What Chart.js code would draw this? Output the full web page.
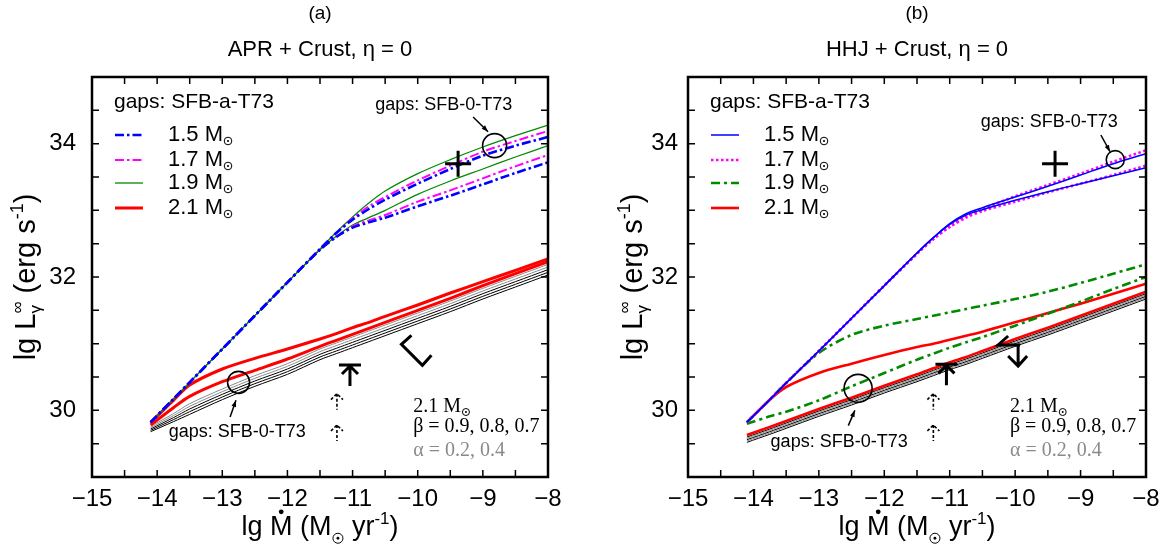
<!DOCTYPE html>
<html>
<head>
<meta charset="utf-8">
<script src="https://cdn.jsdelivr.net/npm/chart.js@4.4.1/dist/chart.umd.min.js"></script>
<style>
html, body { margin: 0; padding: 0; background: #fff; }
#wrap { position: relative; width: 1174px; height: 554px; }
.box { position: absolute; top: 0; width: 587px; height: 554px; }
</style>
</head>
<body>
<div id="wrap">
  <div class="box" style="left:0"><canvas id="chartA" width="587" height="554"></canvas></div>
  <div class="box" style="left:587px"><canvas id="chartB" width="587" height="554"></canvas></div>
</div>
<script>
// lg Mdot grid (M_sun/yr), shared by every curve
const lgMdot = [-14.1, -13.75, -13.5, -13, -12.5, -12, -11.5, -11.25, -11, -10.75, -10.5, -10, -9.5, -9, -8.5, -8];

// (a) APR + Crust : lg L (erg/s)
const aM15_0 = [29.82, 30.17, 30.42, 30.92, 31.42, 31.92, 32.42, 32.66, 32.86, 33.02, 33.16, 33.40, 33.62, 33.82, 33.97, 34.10];
const aM15_a = [29.82, 30.17, 30.42, 30.92, 31.42, 31.92, 32.41, 32.60, 32.74, 32.82, 32.89, 33.06, 33.22, 33.39, 33.56, 33.72];
const aM17_0 = [29.82, 30.17, 30.42, 30.92, 31.42, 31.92, 32.42, 32.66, 32.88, 33.06, 33.20, 33.45, 33.67, 33.88, 34.04, 34.19];
const aM17_a = [29.82, 30.17, 30.42, 30.92, 31.42, 31.92, 32.41, 32.60, 32.76, 32.85, 32.93, 33.13, 33.30, 33.48, 33.66, 33.83];
const aM19_0 = [29.82, 30.17, 30.42, 30.92, 31.42, 31.92, 32.42, 32.67, 32.90, 33.11, 33.29, 33.55, 33.76, 33.95, 34.12, 34.28];
const aM19_a = [29.82, 30.17, 30.42, 30.92, 31.42, 31.92, 32.41, 32.61, 32.78, 32.89, 33.00, 33.24, 33.44, 33.62, 33.80, 33.97];
const aM21_a = [29.82, 30.15, 30.38, 30.62, 30.78, 30.92, 31.07, 31.15, 31.24, 31.32, 31.41, 31.58, 31.76, 31.93, 32.10, 32.27];
const aM21_0 = [29.78, 30.04, 30.21, 30.43, 30.60, 30.77, 30.96, 31.05, 31.14, 31.23, 31.32, 31.50, 31.68, 31.87, 32.05, 32.23];
const aAlpha02 = [29.76, 29.95, 30.10, 30.32, 30.52, 30.70, 30.92, 31.01, 31.10, 31.19, 31.28, 31.46, 31.64, 31.83, 32.01, 32.19];
const aAlpha04 = [29.74, 29.92, 30.06, 30.28, 30.48, 30.66, 30.88, 30.97, 31.06, 31.15, 31.24, 31.42, 31.60, 31.79, 31.97, 32.15];
const aBeta09 = [29.72, 29.89, 30.02, 30.24, 30.44, 30.62, 30.84, 30.93, 31.02, 31.11, 31.20, 31.38, 31.56, 31.75, 31.93, 32.11];
const aBeta08 = [29.70, 29.86, 29.98, 30.20, 30.40, 30.58, 30.80, 30.89, 30.98, 31.07, 31.16, 31.34, 31.52, 31.71, 31.89, 32.07];
const aBeta07 = [29.68, 29.83, 29.94, 30.16, 30.36, 30.54, 30.76, 30.85, 30.94, 31.03, 31.12, 31.30, 31.48, 31.67, 31.85, 32.03];

// (b) HHJ + Crust
const bM15_0 = [29.82, 30.16, 30.41, 30.89, 31.38, 31.87, 32.36, 32.59, 32.80, 32.95, 33.04, 33.20, 33.36, 33.53, 33.70, 33.85];
const bM15_a = [29.82, 30.16, 30.41, 30.89, 31.38, 31.87, 32.36, 32.59, 32.79, 32.93, 33.01, 33.15, 33.28, 33.40, 33.52, 33.64];
const bM17_0 = [29.82, 30.16, 30.41, 30.89, 31.38, 31.87, 32.35, 32.57, 32.76, 32.91, 33.02, 33.21, 33.38, 33.55, 33.73, 33.90];
const bM17_a = [29.82, 30.16, 30.41, 30.89, 31.38, 31.87, 32.35, 32.57, 32.75, 32.89, 32.99, 33.13, 33.27, 33.40, 33.53, 33.67];
const bM19_a = [29.82, 30.16, 30.41, 30.86, 31.13, 31.27, 31.37, 31.42, 31.47, 31.52, 31.57, 31.67, 31.78, 31.91, 32.05, 32.19];
const bM19_0 = [29.80, 29.91, 29.98, 30.15, 30.36, 30.56, 30.76, 30.85, 30.94, 31.02, 31.10, 31.27, 31.45, 31.63, 31.82, 32.00];
const bM21_a = [29.82, 30.16, 30.35, 30.56, 30.70, 30.83, 30.95, 31.00, 31.06, 31.12, 31.18, 31.32, 31.46, 31.60, 31.75, 31.90];
const bM21_0 = [29.63, 29.75, 29.84, 30.02, 30.19, 30.37, 30.54, 30.63, 30.72, 30.80, 30.89, 31.07, 31.24, 31.42, 31.60, 31.78];
const bAlpha02 = [29.60, 29.72, 29.81, 29.99, 30.16, 30.34, 30.51, 30.60, 30.69, 30.77, 30.86, 31.04, 31.21, 31.39, 31.57, 31.75];
const bAlpha04 = [29.58, 29.70, 29.79, 29.97, 30.14, 30.32, 30.49, 30.58, 30.67, 30.75, 30.84, 31.02, 31.19, 31.37, 31.55, 31.73];
const bBeta09 = [29.56, 29.68, 29.77, 29.95, 30.12, 30.30, 30.47, 30.56, 30.65, 30.73, 30.82, 31.00, 31.17, 31.35, 31.53, 31.71];
const bBeta08 = [29.54, 29.66, 29.75, 29.93, 30.10, 30.28, 30.45, 30.54, 30.63, 30.71, 30.80, 30.98, 31.15, 31.33, 31.51, 31.69];
const bBeta07 = [29.52, 29.64, 29.73, 29.91, 30.08, 30.26, 30.43, 30.52, 30.61, 30.69, 30.78, 30.96, 31.13, 31.31, 31.49, 31.67];

const massLabels = ['1.5', '1.7', '1.9', '2.1'];
const xTicks = [-15, -14, -13, -12, -11, -10, -9, -8];
const yTickLabels = [30, 32, 34];

const SANS = '"Liberation Sans", Arial, sans-serif';
const SERIF = '"Liberation Serif", "Times New Roman", serif';
const BLUE = '#0000ff', MAG = '#ff00ff', GREEN = '#008a00', RED = '#ff0000', GRAY = '#8a8a8a';

function series(ys, style) {
  return Object.assign({
    data: lgMdot.map((x, i) => ({ x: x, y: ys[i] })),
    pointRadius: 0, fill: false, tension: 0.3
  }, style);
}

function drawSun(ctx, x, y, r) {
  ctx.save();
  ctx.lineWidth = 1;
  ctx.setLineDash([]);
  ctx.beginPath(); ctx.arc(x, y, r, 0, 2 * Math.PI); ctx.stroke();
  ctx.beginPath(); ctx.arc(x, y, Math.max(0.9, r * 0.28), 0, 2 * Math.PI); ctx.fill();
  ctx.restore();
}

// text made of pieces (sub/superscripts, sun symbol, dotted M), centred on cx
function rich(ctx, segs, size, cx, cy) {
  let w = 0, stackW = 0;
  segs.forEach(s => {
    if (s.sun) s.w = s.sun * 2 + 3;
    else { ctx.font = Math.round(size * (s.k || 1)) + 'px ' + SANS; s.w = ctx.measureText(s.t).width; }
    if (s.stack) { stackW = s.w; return; }
    w += Math.max(s.w, stackW); stackW = 0;
  });
  let x = cx - w / 2;
  ctx.textAlign = 'left'; ctx.textBaseline = 'alphabetic';
  stackW = 0;
  segs.forEach(s => {
    const y = cy + (s.dy || 0) * size;
    if (s.sun) drawSun(ctx, x + s.w / 2, y, s.sun);
    else {
      ctx.font = Math.round(size * (s.k || 1)) + 'px ' + SANS;
      ctx.fillText(s.t, x, y);
      if (s.dot) { ctx.beginPath(); ctx.arc(x + s.w / 2, y - size * 0.86, 2.4, 0, 2 * Math.PI); ctx.fill(); }
    }
    if (s.stack) { stackW = s.w; return; }
    x += Math.max(s.w, stackW); stackW = 0;
  });
}

function arrow(ctx, x1, y1, x2, y2) {
  const ang = Math.atan2(y2 - y1, x2 - x1), h = 7;
  ctx.beginPath(); ctx.moveTo(x1, y1); ctx.lineTo(x2, y2); ctx.stroke();
  ctx.beginPath();
  ctx.moveTo(x2, y2);
  ctx.lineTo(x2 - h * Math.cos(ang - 0.35), y2 - h * Math.sin(ang - 0.35));
  ctx.lineTo(x2 - h * Math.cos(ang + 0.35), y2 - h * Math.sin(ang + 0.35));
  ctx.closePath(); ctx.fill();
}

function panelPlugin(p) {
  return {
    id: 'panel',
    afterDraw(chart) {
      const ctx = chart.ctx, a = chart.chartArea, x = chart.scales.x, y = chart.scales.y;
      const X = v => x.getPixelForValue(v), Y = v => y.getPixelForValue(v);
      ctx.save();
      ctx.fillStyle = '#000'; ctx.strokeStyle = '#000';
      // inward ticks, every 0.5
      ctx.lineWidth = 1.5;
      ctx.beginPath();
      for (let i = 1; i < 14; i++) {
        const px = X(-15 + i * 0.5);
        ctx.moveTo(px, a.bottom); ctx.lineTo(px, a.bottom - 7);
        ctx.moveTo(px, a.top); ctx.lineTo(px, a.top + 7);
      }
      for (let i = 1; i < 12; i++) {
        const py = Y(29 + i * 0.5);
        ctx.moveTo(a.left, py); ctx.lineTo(a.left + 7, py);
        ctx.moveTo(a.right, py); ctx.lineTo(a.right - 7, py);
      }
      ctx.stroke();
      ctx.lineWidth = 2.5;
      ctx.strokeRect(a.left, a.top, a.right - a.left, a.bottom - a.top);

      const cx = (a.left + a.right) / 2;
      ctx.textAlign = 'center'; ctx.textBaseline = 'middle';
      ctx.font = '19px ' + SANS; ctx.fillText(p.tag, cx, 14);
      ctx.font = '22px ' + SANS; ctx.fillText(p.title, cx, 50);

      // axis titles
      rich(ctx, [{ t: 'lg ' }, { t: 'M', dot: true }, { t: ' (M' }, { sun: 5, dy: 0.12 }, { t: ' yr' },
        { t: '-1', k: 0.62, dy: -0.42 }, { t: ')' }], 27, cx, 535);
      ctx.save();
      ctx.translate(a.left - p.yTitleGap, (a.top + a.bottom) / 2);
      ctx.rotate(-Math.PI / 2);
      rich(ctx, [{ t: 'lg L' }, { t: '\u221e', k: 0.6, dy: -0.42, stack: true }, { t: '\u03b3', k: 0.6, dy: 0.22 },
        { t: ' (erg s' }, { t: '-1', k: 0.62, dy: -0.42 }, { t: ')' }], 29, 0, 0);
      ctx.restore();

      // legend
      ctx.textAlign = 'left'; ctx.textBaseline = 'middle';
      ctx.font = '21px ' + SANS;
      ctx.fillText('gaps: SFB-a-T73', a.left + 22, a.top + 25);
      [58, 83, 106, 131].forEach((dy, i) => {
        const ds = chart.data.datasets[p.legendIdx[i]], yy = a.top + dy;
        ctx.save();
        ctx.strokeStyle = ds.borderColor; ctx.lineWidth = ds.borderWidth;
        ctx.setLineDash(ds.borderDash || []);
        ctx.beginPath(); ctx.moveTo(a.left + 23, yy); ctx.lineTo(a.left + 51, yy); ctx.stroke();
        ctx.restore();
        ctx.font = '22px ' + SANS;
        const t = massLabels[i] + ' M';
        ctx.fillText(t, a.left + 76, yy);
        drawSun(ctx, a.left + 76 + ctx.measureText(t).width + 5, yy + 6, 3.8);
      });

      // circles, crosses, arrows, labels (data coordinates)
      ctx.lineWidth = 1.6;
      p.circles.forEach(c => { ctx.beginPath(); ctx.arc(X(c.x), Y(c.y), c.r, 0, 2 * Math.PI); ctx.stroke(); });
      ctx.lineWidth = 3;
      ctx.beginPath();
      ctx.moveTo(X(p.cross.x) - 13, Y(p.cross.y)); ctx.lineTo(X(p.cross.x) + 13, Y(p.cross.y));
      ctx.moveTo(X(p.cross.x), Y(p.cross.y) - 13); ctx.lineTo(X(p.cross.x), Y(p.cross.y) + 13);
      ctx.stroke();
      ctx.lineWidth = 1.5;
      p.arrows.forEach(r => arrow(ctx, X(r.x1), Y(r.y1), X(r.x2), Y(r.y2)));
      ctx.textAlign = 'center';
      ctx.font = '18px ' + SANS;
      p.notes.forEach(n => ctx.fillText('gaps: SFB-0-T73', X(n.x), Y(n.y)));

      // upper-limit arrow with bar
      ctx.lineWidth = 3;
      let ux = X(p.limUp.x), uy = Y(p.limUp.y);
      ctx.beginPath();
      ctx.moveTo(ux - 11, uy); ctx.lineTo(ux + 11, uy);
      ctx.moveTo(ux - 8, uy + 9); ctx.lineTo(ux, uy + 1); ctx.lineTo(ux + 8, uy + 9);
      ctx.moveTo(ux, uy); ctx.lineTo(ux, uy + 21);
      ctx.stroke();
      // down arrow with slanted bar
      ux = X(p.limDown.x); uy = Y(p.limDown.y);
      ctx.beginPath();
      ctx.moveTo(ux + 10, uy - 9); ctx.lineTo(ux, uy);
      if (p.limDown.bent) { ctx.lineTo(ux + 21, uy + 21); ctx.moveTo(ux + 11, uy + 11); ctx.lineTo(ux + 21, uy + 21); ctx.lineTo(ux + 30, uy + 11); }
      else { ctx.lineTo(ux + 22, uy); ctx.moveTo(ux + 20, uy); ctx.lineTo(ux + 20, uy + 21); ctx.moveTo(ux + 10, uy + 11); ctx.lineTo(ux + 20, uy + 21); ctx.lineTo(ux + 29, uy + 11); }
      ctx.stroke();
      // dashed arrows
      ctx.lineWidth = 1.6;
      ctx.setLineDash([3, 2]);
      p.dashed.forEach(d => {
        const dx = X(p.dashedX), dy = Y(d);
        ctx.beginPath();
        ctx.moveTo(dx, dy); ctx.lineTo(dx, dy + 16);
        ctx.moveTo(dx - 6, dy + 6); ctx.lineTo(dx, dy); ctx.lineTo(dx + 6, dy + 6);
        ctx.stroke();
      });
      ctx.setLineDash([]);

      // serif note
      ctx.textAlign = 'left';
      ctx.font = '20px ' + SERIF;
      const nx = X(p.noteX);
      ctx.fillText('2.1 M', nx, Y(30.05));
      drawSun(ctx, nx + ctx.measureText('2.1 M').width + 5, Y(30.05) + 5, 3.5);
      ctx.fillText('\u03b2 = 0.9, 0.8, 0.7', nx, Y(29.75));
      ctx.fillStyle = GRAY;
      ctx.fillText('\u03b1 = 0.2, 0.4', nx, Y(29.4));
      ctx.restore();
    }
  };
}

function makeChart(id, datasets, p, yWidth, padRight, yPad) {
  return new Chart(document.getElementById(id), {
    type: 'line',
    data: { datasets: datasets },
    options: {
      responsive: false, animation: false,
      layout: { padding: { left: 0, right: padRight, top: 77, bottom: 0 } },
      plugins: { legend: { display: false }, tooltip: { enabled: false } },
      scales: {
        x: {
          type: 'linear', min: -15, max: -8,
          afterFit: s => { s.height = 77; },
          grid: { display: false, drawTicks: false }, border: { display: false },
          afterBuildTicks: s => { s.ticks = xTicks.map(v => ({ value: v })); },
          ticks: { padding: 8, color: '#000', autoSkip: false, maxRotation: 0,
            font: { family: SANS, size: 24 }, callback: v => '\u2212' + Math.abs(v) }
        },
        y: {
          type: 'linear', min: 29, max: 35,
          afterFit: s => { s.width = yWidth; },
          grid: { display: false, drawTicks: false }, border: { display: false },
          afterBuildTicks: s => { s.ticks = yTickLabels.map(v => ({ value: v })); },
          ticks: { padding: yPad, color: '#000', autoSkip: false, font: { family: SANS, size: 24 } }
        }
      }
    },
    plugins: [panelPlugin(p)]
  });
}

const dashDot = [9, 3, 2.5, 3];
makeChart('chartA', [
  series(aM15_0, { borderColor: BLUE, borderWidth: 2.6, borderDash: dashDot }),
  series(aM15_a, { borderColor: BLUE, borderWidth: 2.6, borderDash: dashDot }),
  series(aM17_0, { borderColor: MAG, borderWidth: 2, borderDash: dashDot }),
  series(aM17_a, { borderColor: MAG, borderWidth: 2, borderDash: dashDot }),
  series(aM19_0, { borderColor: GREEN, borderWidth: 1.3 }),
  series(aM19_a, { borderColor: GREEN, borderWidth: 1.3 }),
  series(aM21_a, { borderColor: RED, borderWidth: 3 }),
  series(aM21_0, { borderColor: RED, borderWidth: 3 }),
  series(aAlpha02, { borderColor: GRAY, borderWidth: 1 }),
  series(aAlpha04, { borderColor: GRAY, borderWidth: 1 }),
  series(aBeta09, { borderColor: '#000', borderWidth: 1 }),
  series(aBeta08, { borderColor: '#000', borderWidth: 1 }),
  series(aBeta07, { borderColor: '#000', borderWidth: 1 })
], {
  tag: '(a)', title: 'APR + Crust, \u03b7 = 0', yTitleGap: 57, legendIdx: [0, 2, 4, 6],
  circles: [{ x: -8.82, y: 33.97, r: 12 }, { x: -12.75, y: 30.42, r: 11 }],
  cross: { x: -9.38, y: 33.70 },
  arrows: [{ x1: -9.15, y1: 34.4, x2: -8.92, y2: 34.18 }, { x1: -12.88, y1: 29.9, x2: -12.79, y2: 30.15 }],
  notes: [{ x: -9.6, y: 34.58 }, { x: -12.77, y: 29.67 }],
  limUp: { x: -11.04, y: 30.68 }, limDown: { x: -10.25, y: 30.99, bent: true },
  dashedX: -11.24, dashed: [30.25, 29.78], noteX: -10.07
}, 92, 39, 16);

makeChart('chartB', [
  series(bM15_0, { borderColor: BLUE, borderWidth: 1.5 }),
  series(bM15_a, { borderColor: BLUE, borderWidth: 1.5 }),
  series(bM17_0, { borderColor: MAG, borderWidth: 2.6, borderDash: [2.5, 2.5] }),
  series(bM17_a, { borderColor: MAG, borderWidth: 2.6, borderDash: [2.5, 2.5] }),
  series(bM19_a, { borderColor: GREEN, borderWidth: 2.6, borderDash: [9, 4, 3, 4] }),
  series(bM19_0, { borderColor: GREEN, borderWidth: 2.6, borderDash: [9, 4, 3, 4] }),
  series(bM21_a, { borderColor: RED, borderWidth: 2.6 }),
  series(bM21_0, { borderColor: RED, borderWidth: 2.6 }),
  series(bAlpha02, { borderColor: '#000', borderWidth: 1 }),
  series(bAlpha04, { borderColor: GRAY, borderWidth: 1 }),
  series(bBeta09, { borderColor: '#000', borderWidth: 1 }),
  series(bBeta08, { borderColor: GRAY, borderWidth: 1 }),
  series(bBeta07, { borderColor: '#000', borderWidth: 1 })
], {
  tag: '(b)', title: 'HHJ + Crust, \u03b7 = 0', yTitleGap: 46, legendIdx: [0, 2, 4, 6],
  circles: [{ x: -8.47, y: 33.76, r: 9 }, { x: -12.4, y: 30.33, r: 14 }],
  cross: { x: -9.39, y: 33.70 },
  arrows: [{ x1: -8.69, y1: 34.13, x2: -8.55, y2: 33.88 }, { x1: -12.55, y1: 29.77, x2: -12.45, y2: 30.0 }],
  notes: [{ x: -9.48, y: 34.33 }, { x: -12.69, y: 29.52 }],
  limUp: { x: -11.05, y: 30.69 }, limDown: { x: -10.26, y: 30.98, bent: false },
  dashedX: -11.25, dashed: [30.25, 29.78], noteX: -10.08
}, 101, 28, 10);
</script>
</body>
</html>
